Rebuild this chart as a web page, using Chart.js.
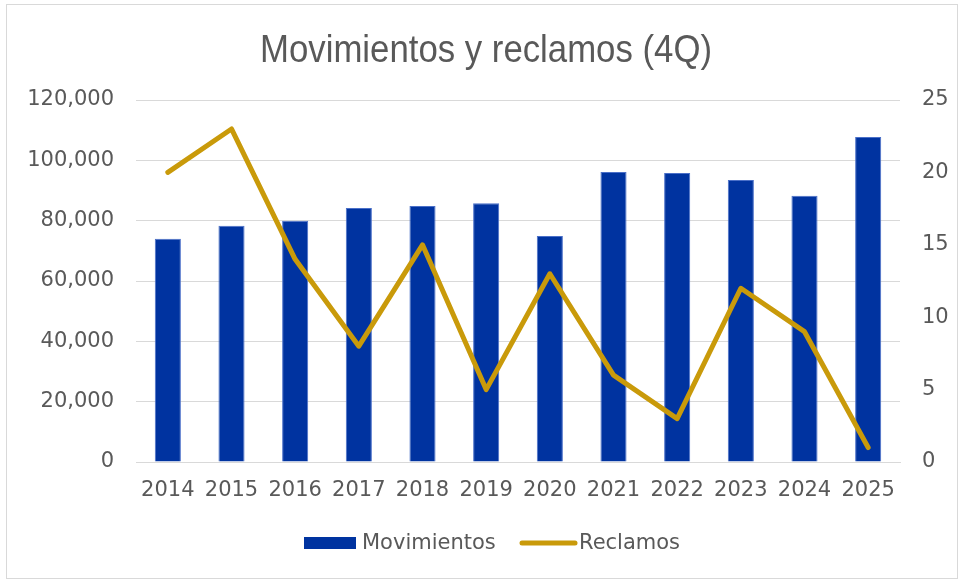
<!DOCTYPE html>
<html>
<head>
<meta charset="utf-8">
<script src="https://cdn.jsdelivr.net/npm/chart.js@4"></script>
<style>
  html, body { margin: 0; padding: 0; background: #fff; }
  #wrap { width: 960px; height: 580px; position: relative; }
</style>
</head>
<body>
<div id="wrap"><canvas id="grafico" width="960" height="580"></canvas></div>
<script>
// Datos del gráfico
const anios = ['2014', '2015', '2016', '2017', '2018', '2019', '2020', '2021', '2022', '2023', '2024', '2025'];
const movimientos = [74000, 78300, 80000, 84200, 84900, 85800, 74900, 96100, 95800, 93500, 88300, 107700];
const reclamos = [20, 23, 14, 8, 15, 5, 13, 6, 3, 12, 9, 1];
const ticksIzq = [0, 20000, 40000, 60000, 80000, 100000, 120000];
const ticksDer = [0, 5, 10, 15, 20, 25];

const AZUL = '#0033A0';
const DORADO = '#C99A0A';
const GRIS_TEXTO = '#595959';
const GRIS_LINEA = '#D9D9D9';
const FUENTE = "'DejaVu Sans', Verdana, sans-serif";

Chart.defaults.font.family = FUENTE;
Chart.defaults.color = GRIS_TEXTO;

// Título, leyenda y borde dibujados a mano
const decoracion = {
    id: 'decoracion',
    afterDraw(chart) {
        const ctx = chart.ctx;
        ctx.save();
        ctx.strokeStyle = GRIS_LINEA;
        ctx.lineWidth = 1;
        ctx.strokeRect(6.5, 4.5, 951, 574);

        // título estrecho: se escala en horizontal hasta el ancho del original
        const titulo = 'Movimientos y reclamos (4Q)';
        ctx.fillStyle = GRIS_TEXTO;
        ctx.font = "39px 'Liberation Sans', Arial, sans-serif";
        ctx.textBaseline = 'alphabetic';
        ctx.textAlign = 'left';
        const ancho = ctx.measureText(titulo).width;
        const escala = 452 / ancho;
        ctx.save();
        ctx.translate(260, 62);
        ctx.scale(escala, 1);
        ctx.fillText(titulo, 0, 0);
        ctx.restore();

        // leyenda
        ctx.font = '21px ' + FUENTE;
        ctx.textAlign = 'left';
        ctx.textBaseline = 'middle';
        ctx.fillStyle = AZUL;
        ctx.fillRect(304, 537, 52, 12);
        ctx.fillStyle = GRIS_TEXTO;
        ctx.fillText('Movimientos', 362, 544);

        ctx.strokeStyle = DORADO;
        ctx.lineWidth = 5;
        ctx.lineCap = 'round';
        ctx.beginPath();
        ctx.moveTo(522, 543);
        ctx.lineTo(575, 543);
        ctx.stroke();
        ctx.fillText('Reclamos', 579, 544);
        ctx.restore();
    }
};

const ctx = document.getElementById('grafico').getContext('2d');
new Chart(ctx, {
    type: 'bar',
    data: {
        labels: anios,
        datasets: [{
            type: 'line',
            label: 'Reclamos',
            data: reclamos,
            yAxisID: 'y1',
            borderColor: DORADO,
            borderWidth: 5,
            borderCapStyle: 'round',
            borderJoinStyle: 'round',
            pointRadius: 0,
            tension: 0,
            order: 0
        }, {
            label: 'Movimientos',
            data: movimientos,
            yAxisID: 'y',
            backgroundColor: AZUL,
            borderColor: '#4A6FC8',
            borderWidth: 1,
            categoryPercentage: 1,
            barPercentage: 0.41,
            order: 1
        }]
    },
    options: {
        responsive: false,
        animation: false,
        layout: { padding: { top: 100, right: 0, bottom: 0, left: 0 } },
        plugins: {
            legend: { display: false },
            title: { display: false },
            tooltip: { enabled: false }
        },
        scales: {
            x: {
                grid: { display: false, drawTicks: false },
                border: { color: GRIS_LINEA, width: 1 },
                ticks: { font: { size: 21 }, padding: 16, maxRotation: 0, autoSkip: false },
                afterFit: s => { s.height = 118; }
            },
            y: {
                position: 'left',
                min: 0,
                max: 120000,
                afterBuildTicks: s => { s.ticks = ticksIzq.map(v => ({ value: v })); },
                grid: { color: GRIS_LINEA, drawTicks: false },
                border: { display: false },
                ticks: {
                    font: { size: 21 },
                    padding: 22,
                    callback: v => v.toLocaleString('en-US')
                },
                afterFit: s => { s.width = 136; }
            },
            y1: {
                position: 'right',
                min: 0,
                max: 25,
                afterBuildTicks: s => { s.ticks = ticksDer.map(v => ({ value: v })); },
                grid: { display: false, drawTicks: false },
                border: { display: false },
                ticks: { font: { size: 21 }, padding: 22 },
                afterFit: s => { s.width = 60; }
            }
        }
    },
    plugins: [decoracion]
});
</script>
</body>
</html>
